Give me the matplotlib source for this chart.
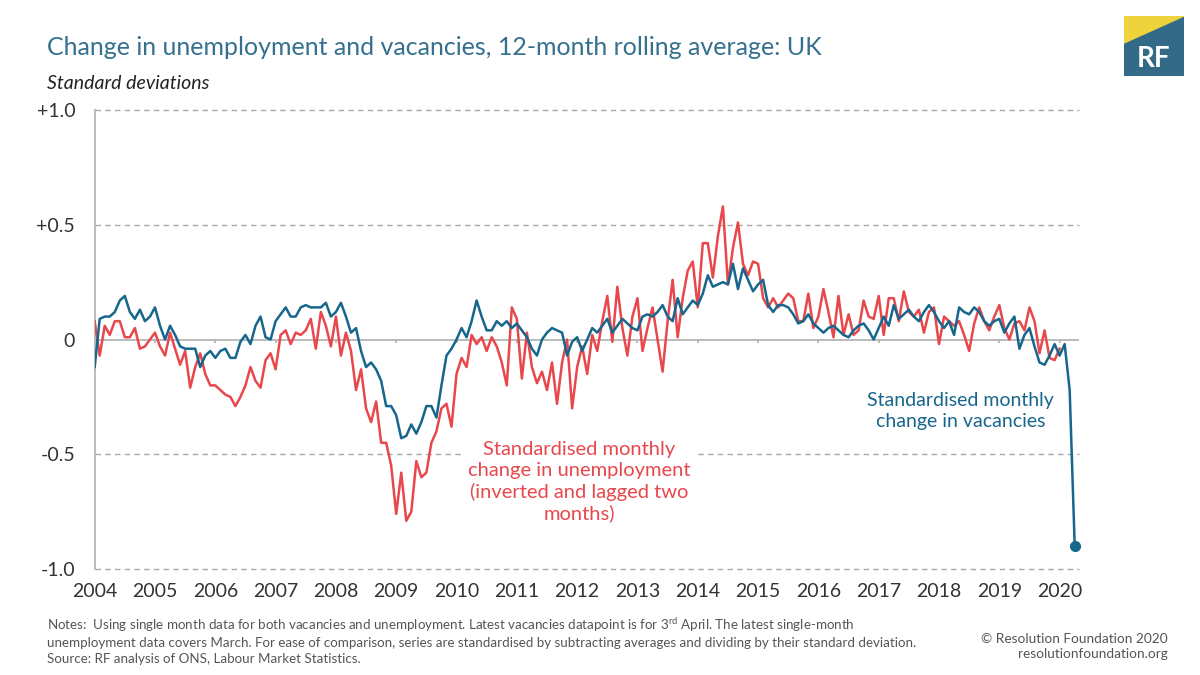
import matplotlib
matplotlib.use("Agg")
import matplotlib.pyplot as plt
import numpy as np
from matplotlib.patches import Polygon, Rectangle

plt.rcParams['font.family'] = ['Lato', 'DejaVu Sans']
plt.rcParams['mathtext.fontset'] = 'custom'
plt.rcParams['mathtext.rm'] = 'Lato'

# standardised monthly change in vacancies, Jan 2004 - Apr 2020
vacancies = [
    -0.12, 0.09, 0.10, 0.10, 0.12, 0.17, 0.19, 0.12, 0.09, 0.13, 0.08, 0.10,
    0.14, 0.06, 0.00, 0.06, 0.02, -0.03, -0.04, -0.04, -0.04, -0.12, -0.07, -0.05,
    -0.08, -0.05, -0.04, -0.08, -0.08, -0.01, 0.02, -0.02, 0.06, 0.10, 0.01, 0.00,
    0.08, 0.11, 0.14, 0.10, 0.10, 0.14, 0.15, 0.14, 0.14, 0.14, 0.16, 0.10,
    0.12, 0.16, 0.10, 0.03, 0.05, -0.05, -0.12, -0.10, -0.13, -0.18, -0.29, -0.29,
    -0.33, -0.43, -0.42, -0.37, -0.41, -0.36, -0.29, -0.29, -0.34, -0.20, -0.07, -0.04,
    0.00, 0.05, 0.01, 0.08, 0.17, 0.10, 0.04, 0.04, 0.08, 0.06, 0.08, 0.05,
    0.07, 0.04, 0.01, -0.04, -0.07, 0.00, 0.03, 0.05, 0.04, 0.03, -0.07, -0.01,
    0.01, -0.05, 0.00, 0.05, 0.03, 0.06, 0.09, 0.03, 0.06, 0.09, 0.07, 0.05,
    0.04, 0.10, 0.11, 0.10, 0.12, 0.15, 0.10, 0.08, 0.18, 0.11, 0.14, 0.17,
    0.15, 0.20, 0.28, 0.23, 0.24, 0.25, 0.24, 0.33, 0.22, 0.31, 0.26, 0.21,
    0.24, 0.26, 0.15, 0.12, 0.15, 0.15, 0.14, 0.11, 0.07, 0.08, 0.11, 0.07,
    0.05, 0.03, 0.05, 0.06, 0.04, 0.02, 0.01, 0.04, 0.06, 0.07, 0.04, 0.00,
    0.05, 0.10, 0.06, 0.15, 0.09, 0.11, 0.13, 0.10, 0.08, 0.12, 0.15, 0.12,
    0.08, 0.05, 0.08, 0.02, 0.14, 0.12, 0.11, 0.14, 0.12, 0.08, 0.06, 0.08,
    0.09, 0.03, 0.07, 0.10, -0.04, 0.02, 0.05, -0.03, -0.10, -0.11, -0.07, -0.02,
    -0.07, -0.02, -0.22, -0.90,
]

# standardised monthly change in unemployment (inverted, lagged 2 months), Jan 2004 - Jan 2020
unemployment = [
    0.08, -0.07, 0.06, 0.02, 0.08, 0.08, 0.01, 0.01, 0.05, -0.04, -0.03, 0.00,
    0.03, -0.03, -0.07, 0.03, -0.04, -0.11, -0.05, -0.21, -0.12, -0.06, -0.15, -0.20,
    -0.20, -0.22, -0.24, -0.25, -0.29, -0.25, -0.20, -0.12, -0.18, -0.21, -0.09, -0.06,
    -0.13, 0.02, 0.04, -0.02, 0.03, 0.02, 0.04, 0.09, -0.04, 0.12, 0.06, -0.03,
    0.10, -0.07, 0.03, -0.05, -0.22, -0.13, -0.30, -0.36, -0.27, -0.45, -0.45, -0.55,
    -0.76, -0.58, -0.79, -0.75, -0.53, -0.60, -0.58, -0.45, -0.40, -0.30, -0.28, -0.38,
    -0.15, -0.08, -0.12, 0.02, -0.02, 0.01, -0.05, 0.01, -0.03, -0.10, -0.20, 0.14,
    0.09, -0.17, 0.03, -0.12, -0.19, -0.14, -0.22, -0.10, -0.28, -0.10, 0.00, -0.30,
    -0.12, -0.03, -0.15, 0.02, -0.05, 0.08, 0.19, -0.01, 0.23, 0.05, -0.07, 0.10,
    0.18, -0.05, 0.05, 0.14, 0.00, -0.14, 0.08, 0.26, 0.01, 0.18, 0.30, 0.34,
    0.14, 0.42, 0.42, 0.27, 0.45, 0.58, 0.24, 0.40, 0.51, 0.33, 0.28, 0.34,
    0.33, 0.18, 0.14, 0.18, 0.14, 0.17, 0.20, 0.18, 0.08, 0.08, 0.20, 0.05,
    0.10, 0.22, 0.12, 0.01, 0.19, 0.02, 0.11, 0.02, 0.04, 0.17, 0.10, 0.09,
    0.19, 0.02, 0.18, 0.18, 0.08, 0.21, 0.12, 0.10, 0.13, 0.03, 0.12, 0.14,
    -0.02, 0.10, 0.08, 0.06, 0.08, 0.02, -0.05, 0.07, 0.14, 0.08, 0.04, 0.10,
    0.15, 0.05, 0.00, 0.07, 0.08, 0.04, 0.14, 0.08, -0.06, 0.04, -0.08, -0.09,
    -0.04,
]

years = list(range(2004, 2021))
y_ticks = [1.0, 0.5, 0.0, -0.5, -1.0]
y_labels = ['+1.0', '+0.5', '0', '-0.5', '-1.0']

BLUE = '#17668c'
RED = '#e8474c'
TEAL_TXT = '#35708e'
GREY = '#b5b5b5'

vac_x = 2004 + np.arange(len(vacancies)) / 12
une_x = 2004 + np.arange(len(unemployment)) / 12

fig = plt.figure(figsize=(12, 6.75), dpi=100)
ax = fig.add_axes([0.0789, 0.157, 0.8202, 0.680])

for v in [1.0, 0.5, -0.5, -1.0]:
    ax.axhline(v, color='#a8a8a8', lw=1, dashes=(4, 3), clip_on=False, zorder=1)
ax.axhline(0, color=GREY, lw=1.3, zorder=1)
ax.vlines(years, -0.015, 0, color=GREY, lw=1.3, zorder=1)

ax.plot(une_x, unemployment, color=RED, lw=1.8, zorder=3)
ax.plot(vac_x, vacancies, color=BLUE, lw=1.8, zorder=4)
ax.plot(vac_x[-1], vacancies[-1], 'o', color=BLUE, ms=7, zorder=5, clip_on=False)

ax.set_xlim(2004, 2020.32)
ax.set_ylim(-1.0, 1.0)
ax.set_xticks(years)
ax.set_xticklabels([str(y) for y in years])
ax.set_yticks(y_ticks)
ax.set_yticklabels(y_labels)
ax.tick_params(axis='both', length=0, labelsize=14, colors='#333333')
ax.tick_params(axis='x', pad=10)
ax.tick_params(axis='y', pad=14)
for s in ['top', 'right', 'bottom']:
    ax.spines[s].set_visible(False)
ax.spines['left'].set_color(GREY)
ax.spines['left'].set_linewidth(1.3)

ax.text(2018.36, -0.31, 'Standardised monthly\nchange in vacancies', color=BLUE,
        fontsize=14, ha='center', va='center', linespacing=1.3)
ax.text(2012.04, -0.62, 'Standardised monthly\nchange in unemployment\n(inverted and lagged two\nmonths)',
        color=RED, fontsize=14.5, ha='center', va='center', linespacing=1.25,
        bbox=dict(facecolor='white', edgecolor='none', pad=2), zorder=6)

fig.text(0.039, 0.930, 'Change in unemployment and vacancies, 12-month rolling average: UK',
         color=TEAL_TXT, fontsize=18, va='center')
fig.text(0.039, 0.877, 'Standard deviations', color='#222222', fontsize=14,
         style='italic', va='center')

notes = ("Notes:  Using single month data for both vacancies and unemployment. Latest vacancies datapoint is for 3$^{\\rm rd}$ April. The latest single-month\n"
         "unemployment data covers March. For ease of comparison, series are standardised by subtracting averages and dividing by their standard deviation.\n"
         "Source: RF analysis of ONS, Labour Market Statistics.")
fig.text(0.039, 1 - 616 / 675, notes, color='#555555', fontsize=9.6, va='top', linespacing=1.35)
fig.text(0.973, 1 - 633 / 675, '\u00a9 Resolution Foundation 2020\nresolutionfoundation.org',
         color='#555555', fontsize=9.8, ha='right', va='top', linespacing=1.3)

# RF logo
lax = fig.add_axes([1124 / 1200, 1 - 76 / 675, 60 / 1200, 60 / 675])
lax.set_xlim(0, 1)
lax.set_ylim(0, 1)
lax.axis('off')
lax.add_patch(Rectangle((0, 0), 1, 1, color='#326a88'))
lax.add_patch(Polygon([[0, 1], [1, 1], [0, 0.55]], closed=True, color='#eed33d'))
lax.text(0.5, 0.28, 'RF', color='white', fontsize=20, fontweight='bold',
         ha='center', va='center')

fig.savefig('out.png', dpi=100)
